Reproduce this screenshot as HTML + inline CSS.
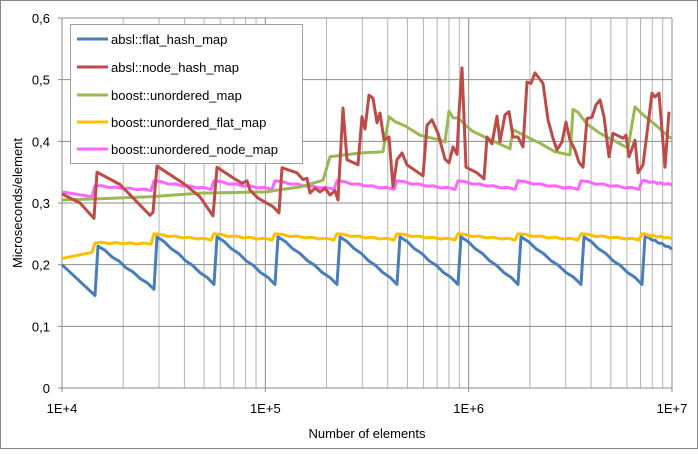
<!DOCTYPE html>
<html><head><meta charset="utf-8"><style>
html,body{margin:0;padding:0;background:#fff;}
svg text{font-family:"Liberation Sans",sans-serif;font-size:13px;fill:#000;}
</style></head><body>
<svg id="s" width="698" height="449" xmlns="http://www.w3.org/2000/svg">
<rect x="0.5" y="0.5" width="697" height="448" fill="#fff" stroke="#868686"/>
<g id="grid"></g>
<g id="series" fill="none" stroke-width="3" stroke-linejoin="round"></g>
<g id="labels"></g>
<text x="367" y="438" text-anchor="middle">Number of elements</text>
<text transform="translate(22,203) rotate(-90)" text-anchor="middle">Microseconds/element</text>
<rect x="70.5" y="24.5" width="232" height="139" fill="#fff" stroke="#a0a0a0"/>
<g stroke-width="3">
<line x1="77" y1="39" x2="108" y2="39" stroke="#4a7ebb"/>
<line x1="77" y1="67" x2="108" y2="67" stroke="#be4b48"/>
<line x1="77" y1="95" x2="108" y2="95" stroke="#98b954"/>
<line x1="77" y1="122" x2="108" y2="122" stroke="#ffc000"/>
<line x1="77" y1="149" x2="108" y2="149" stroke="#ff66ff"/>
</g>
<text x="111" y="44">absl::flat_hash_map</text>
<text x="111" y="72">absl::node_hash_map</text>
<text x="111" y="100">boost::unordered_map</text>
<text x="111" y="127">boost::unordered_flat_map</text>
<text x="111" y="154">boost::unordered_node_map</text>
</svg>
<script>
var NS="http://www.w3.org/2000/svg";
function el(p,t,a,txt){var e=document.createElementNS(NS,t);for(var k in a)e.setAttribute(k,a[k]);if(txt)e.textContent=txt;document.getElementById(p).appendChild(e);}
var L=62,R=672,T=18,B=388,D=(R-L)/3;
function Y(v){return B-(B-T)*v/0.6;}
for(var d=0;d<3;d++)for(var m=2;m<10;m++){var x=L+D*(d+Math.log10(m));el("grid","line",{x1:x,x2:x,y1:T,y2:B,stroke:"#b4b4b4","stroke-width":1});}
for(var i=0;i<=6;i++){var y=Y(i/10);el("grid","line",{x1:L-4,x2:R,y1:y,y2:y,stroke:"#8c8c8c","stroke-width":1});
if(i>0)el("labels","text",{x:50,y:y+5,"text-anchor":"end"},"0,"+i);}
el("labels","text",{x:50,y:Y(0)+5,"text-anchor":"end"},"0");
var xl=["1E+4","1E+5","1E+6","1E+7"];
for(var d=0;d<=3;d++){var x=L+D*d;el("grid","line",{x1:x,x2:x,y1:T,y2:B+4,stroke:"#8c8c8c","stroke-width":1});el("labels","text",{x:x,y:413,"text-anchor":"middle"},xl[d]);}
function path(pts,col){var s="";for(var i=0;i<pts.length;i++)s+=(i?"L":"M")+pts[i][0].toFixed(1)+","+Y(pts[i][1]).toFixed(1);el("series","path",{d:s,stroke:col});}
var J=[94,153,213,274,336,396,457,517,580,641];
function saw(start,first,peak,trough,endv,dx,curve){var p=[[62,start[0]],[J[0]-2+dx,start[1]]];
for(var k=0;k<J.length;k++){var a=J[k]+dx,b=(k+1<J.length?J[k+1]-2+dx:672);
var pk=(k==0?first[0]:peak),tr=(k==0?first[1]:trough);if(k==J.length-1)tr=endv;
var n=8;for(var j=0;j<=n;j++){var t=j/n;var xx=a+1+(b-a-1)*t;if(k==J.length-1&&xx>672)break;p.push([xx,pk+(tr-pk)*Math.pow(t,curve)+(j%2?0.002:0)]);}}
return p;}
path(saw([0.20,0.15],[0.23,0.16],0.245,0.168,0.225,3,1),"#4a7ebb");
path(saw([0.21,0.22],[0.235,0.233],0.25,0.24,0.242,0,0.6),"#ffc000");
path(saw([0.318,0.31],[0.328,0.32],0.336,0.322,0.329,0,0.7),"#ff66ff");
path([[62,0.305],[100,0.307],[150,0.31],[200,0.316],[267,0.318],[277,0.321],[300,0.326],[323,0.337],[330,0.375],[360,0.381],[383,0.383],[389,0.44],[395,0.432],[405,0.425],[412,0.418],[420,0.41],[427,0.407],[440,0.402],[445,0.399],[449,0.449],[453,0.438],[458,0.438],[465,0.427],[472,0.417],[487,0.405],[510,0.388],[513,0.419],[527,0.407],[540,0.397],[555,0.383],[570,0.378],[573,0.452],[578,0.447],[587,0.428],[600,0.413],[613,0.402],[628,0.389],[635,0.456],[643,0.443],[653,0.43],[669,0.407],[672,0.405]],"#98b954");
path([[62,0.315],[80,0.3],[94,0.275],[97,0.35],[120,0.33],[150,0.28],[153,0.285],[157,0.36],[185,0.33],[200,0.31],[213,0.279],[217,0.358],[232,0.342],[242,0.332],[247,0.336],[250,0.321],[258,0.308],[273,0.294],[279,0.284],[282,0.357],[297,0.349],[303,0.338],[307,0.34],[310,0.316],[315,0.324],[320,0.318],[325,0.324],[330,0.313],[335,0.32],[338,0.305],[343,0.454],[347,0.37],[358,0.362],[362,0.44],[365,0.42],[369,0.475],[373,0.47],[377,0.43],[380,0.446],[384,0.402],[389,0.407],[393,0.326],[397,0.37],[402,0.381],[407,0.362],[423,0.344],[427,0.426],[432,0.435],[438,0.413],[445,0.371],[449,0.365],[453,0.391],[457,0.379],[459,0.446],[462,0.519],[466,0.358],[477,0.349],[484,0.339],[487,0.407],[492,0.396],[497,0.441],[500,0.399],[505,0.443],[509,0.448],[513,0.407],[518,0.407],[523,0.391],[527,0.496],[531,0.494],[535,0.511],[543,0.494],[548,0.435],[553,0.405],[557,0.386],[562,0.399],[566,0.431],[570,0.402],[575,0.386],[579,0.366],[583,0.358],[587,0.437],[592,0.439],[596,0.459],[600,0.467],[604,0.44],[609,0.375],[613,0.413],[617,0.41],[623,0.405],[626,0.41],[629,0.375],[635,0.402],[638,0.349],[643,0.362],[652,0.478],[655,0.472],[659,0.478],[665,0.358],[669,0.448]],"#be4b48");
</script>
</body></html>
